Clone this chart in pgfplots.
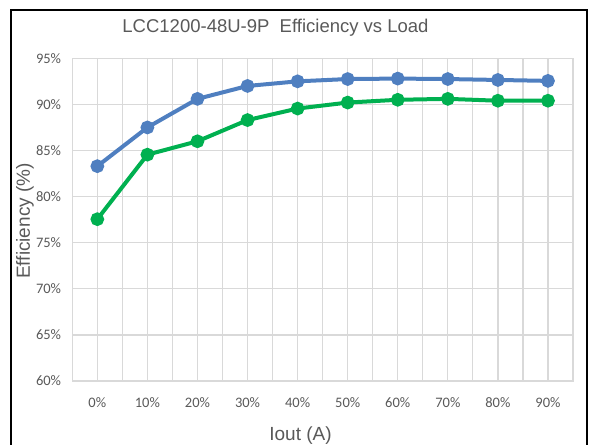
\documentclass[border=0pt]{standalone}
\usepackage{pgfplots}
\pgfplotsset{compat=1.18}
\usepackage{fontspec}
\setmainfont{Liberation Sans}
\newfontfamily\carlito{Carlito}
\definecolor{effblue}{HTML}{4F7FC0}
\definecolor{effgreen}{HTML}{00B050}
\definecolor{gridgray}{HTML}{D9D9D9}
\definecolor{txtgray}{HTML}{595959}
\begin{document}
\begin{tikzpicture}[x=1pt,y=1pt]
\useasboundingbox (0,0) rectangle (593,444);
% outer frame (bottom edge falls outside the picture)
\draw[black, line width=2.5pt] (11,-5) -- (11,434) -- (587,434) -- (587,-5);
\begin{axis}[
    at={(72.3pt,63pt)}, anchor=south west,
    scale only axis, width=500.7pt, height=322.7pt,
    xmin=-0.5, xmax=9.5, ymin=60, ymax=95,
    xtick={0,1,2,3,4,5,6,7,8,9},
    xticklabels={0\%,10\%,20\%,30\%,40\%,50\%,60\%,70\%,80\%,90\%},
    minor xtick={-0.5,0.5,1.5,2.5,3.5,4.5,5.5,6.5,7.5,8.5,9.5},
    ytick={60,65,70,75,80,85,90,95},
    yticklabels={60\%,65\%,70\%,75\%,80\%,85\%,90\%,95\%},
    grid=both,
    major grid style={gridgray, line width=1.2pt},
    minor grid style={gridgray, line width=1.2pt},
    axis line style={gridgray, line width=1.2pt},
    major tick length=0pt, minor tick length=0pt,
    tick label style={font=\carlito\fontsize{14.5}{16}\selectfont, text=txtgray, inner sep=0pt},
    yticklabel style={xshift=-11pt},
    xticklabel style={yshift=-16pt},
    clip=false,
]
\addplot[effblue, line width=4pt, mark=*, mark size=4.8pt] coordinates {
    (0,83.3) (1,87.5) (2,90.6) (3,92.0) (4,92.5) (5,92.75) (6,92.8) (7,92.75) (8,92.65) (9,92.55)
};
\addplot[effgreen, line width=4pt, mark=*, mark size=4.8pt] coordinates {
    (0,77.55) (1,84.55) (2,86.0) (3,88.3) (4,89.55) (5,90.2) (6,90.5) (7,90.6) (8,90.4) (9,90.4)
};
\end{axis}
\node[text=txtgray, font=\fontsize{18.5}{21}\selectfont] at (275.5,416.5) {LCC1200-48U-9P\ \ Efficiency vs Load};
\node[text=txtgray, font=\fontsize{19}{22}\selectfont, rotate=90] at (25,223) {Efficiency (\%)};
\node[text=txtgray, font=\fontsize{19}{22}\selectfont, anchor=base] at (300.5,4) {Iout (A)};
\end{tikzpicture}
\end{document}
